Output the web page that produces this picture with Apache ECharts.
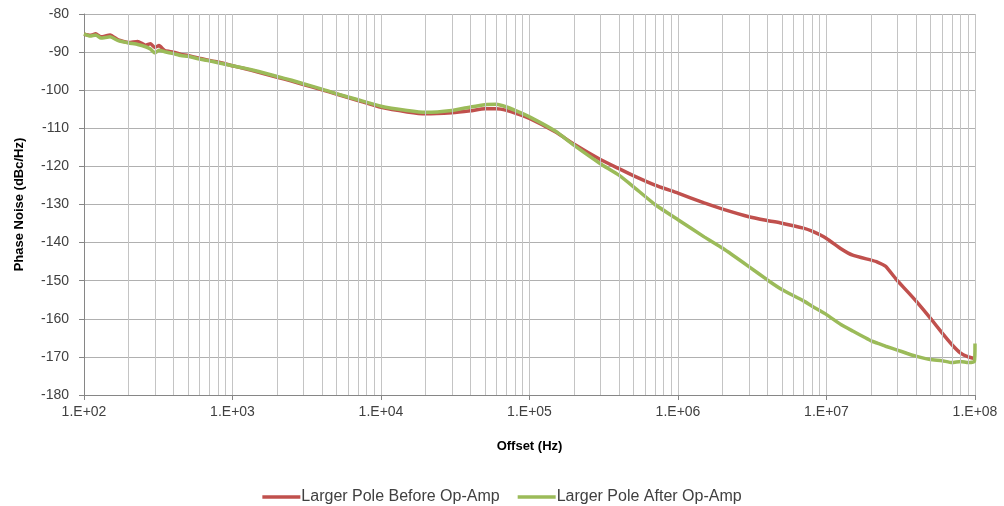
<!DOCTYPE html>
<html>
<head>
<meta charset="utf-8">
<script src="https://cdn.jsdelivr.net/npm/echarts@6/dist/echarts.min.js"></script>
<style>html,body{margin:0;padding:0;background:#fff;}#c{width:1004px;height:506px;}</style>
</head>
<body>
<div id="c"></div>
<script>
const freq = [100,110,120,130,150,170,200,230,260,280,300,320,350,400,450,500,600,700,800,1000,1200,1500,2000,2500,3000,4000,5000,7000,10000,15000,20000,30000,40000,50000,60000,70000,80000,100000,150000,200000,300000,400000,500000,700000,1e6,1.5e6,2e6,3e6,4e6,5e6,7e6,8e6,1e7,1.25e7,1.5e7,2e7,2.2e7,2.5e7,3e7,3.5e7,4e7,5e7,6e7,7e7,8e7,9e7,9.9e7,1e8];
const before = [-85.3,-85.6,-85.2,-86.0,-85.5,-86.8,-87.5,-87.2,-88.2,-87.8,-88.8,-88.3,-89.6,-90.0,-90.6,-90.9,-91.6,-92.2,-92.6,-93.6,-94.3,-95.3,-96.6,-97.6,-98.5,-99.9,-101.0,-102.7,-104.5,-105.7,-106.2,-105.9,-105.4,-104.9,-104.9,-105.3,-106.0,-107.4,-111.0,-114.2,-118.2,-120.6,-122.4,-124.9,-127.0,-129.6,-131.2,-133.2,-134.2,-134.9,-136.2,-137.0,-138.9,-141.6,-143.3,-144.6,-145.1,-146.2,-150.0,-152.8,-155.3,-159.8,-163.7,-166.8,-169.0,-170.0,-170.4,-170.5];
const after = [-85.2,-85.8,-85.5,-86.3,-86.0,-87.0,-87.6,-88.0,-88.6,-89.2,-90.2,-89.5,-89.9,-90.4,-90.9,-91.1,-91.8,-92.3,-92.8,-93.6,-94.2,-95.1,-96.4,-97.4,-98.3,-99.7,-100.9,-102.5,-104.2,-105.3,-105.8,-105.3,-104.4,-103.8,-103.7,-104.4,-105.3,-107.0,-110.8,-114.5,-119.3,-122.3,-125.3,-130.0,-134.0,-138.5,-141.5,-146.3,-149.8,-152.3,-155.3,-156.7,-158.9,-161.5,-163.2,-165.8,-166.4,-167.2,-168.2,-169.1,-169.8,-170.7,-171.0,-171.5,-171.2,-171.5,-171.2,-166.5];
const seriesNames = ['Larger Pole Before Op-Amp','Larger Pole After Op-Amp'];
const minorGrid = [];
for (let d = 2; d < 8; d++) for (let k = 2; k <= 9; k++) minorGrid.push(k * Math.pow(10, d));

const chart = echarts.init(document.getElementById('c'));
const font = 'Liberation Sans';
chart.setOption({
  animation: false,
  grid: {left: 84, right: 29, top: 14, bottom: 111},
  legend: {
    data: seriesNames, top: 484, left: 'center', icon: 'rect', itemWidth: 38, itemHeight: 3.5, itemGap: 18,
    textStyle: {fontFamily: font, fontSize: 16, color: '#404040', padding: [0,0,0,-4]}
  },
  xAxis: {
    type: 'log', logBase: 10, min: 100, max: 1e8,
    name: 'Offset (Hz)', nameLocation: 'middle', nameGap: 45,
    nameTextStyle: {fontFamily: font, fontSize: 13, fontWeight: 'bold', color: '#000'},
    axisLine: {lineStyle: {color: '#868686'}},
    axisTick: {show: true, inside: false, length: 5, lineStyle: {color: '#868686'}},
    axisLabel: {fontFamily: font, fontSize: 14, color: '#404040', margin: 10,
      formatter: v => '1.E+' + String(Math.round(Math.log10(v))).padStart(2, '0')},
    splitLine: {show: true, lineStyle: {color: '#c4c4c4', width: 1}}
  },
  yAxis: {
    type: 'value', min: -180, max: -80, interval: 10,
    name: 'Phase Noise (dBc/Hz)', nameLocation: 'middle', nameGap: 58, nameRotate: 90,
    nameTextStyle: {fontFamily: font, fontSize: 13, fontWeight: 'bold', color: '#000'},
    axisLine: {show: true, lineStyle: {color: '#868686'}},
    axisTick: {show: true, inside: false, length: 5, lineStyle: {color: '#868686'}},
    axisLabel: {fontFamily: font, fontSize: 14, color: '#404040', margin: 15},
    splitLine: {show: true, lineStyle: {color: '#b0b0b0', width: 1}}
  },
  series: [
    {
      name: 'minor', type: 'line', data: [], silent: true, z: 1,
      markLine: {silent: true, symbol: 'none', label: {show: false},
        lineStyle: {color: '#c4c4c4', type: 'solid', width: 1},
        data: minorGrid.map(v => ({xAxis: v}))}
    },
    {
      name: seriesNames[0], type: 'line', symbol: 'none', z: 3, smooth: 0.15,
      lineStyle: {color: '#c0504d', width: 3.5}, itemStyle: {color: '#c0504d'},
      data: freq.map((f, i) => [f, before[i]])
    },
    {
      name: seriesNames[1], type: 'line', symbol: 'none', z: 4, smooth: 0.15,
      lineStyle: {color: '#9bbb59', width: 3.5}, itemStyle: {color: '#9bbb59'},
      data: freq.map((f, i) => [f, after[i]])
    }
  ]
});
</script>
</body>
</html>
